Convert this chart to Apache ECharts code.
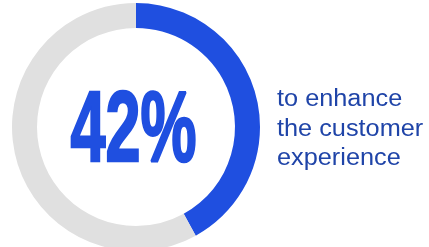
<!DOCTYPE html>
<html>
<head>
<meta charset="utf-8">
<script src="https://cdn.jsdelivr.net/npm/echarts@6/dist/echarts.min.js"></script>
<style>
  html, body { margin: 0; padding: 0; background: #fff; }
  #grafik { width: 429px; height: 247px; }
</style>
</head>
<body>
<div id="grafik"></div>
<script>
var names = ['customer experience', 'other'];
var values = [42, 58];
var caption = ['to enhance', 'the customer', 'experience'];

var chart = echarts.init(document.getElementById('grafik'));

var option = {
  animation: false,
  series: [
    {
      type: 'pie',
      center: [136, 127],
      radius: [99, 124],
      startAngle: 90,
      clockwise: true,
      silent: true,
      label: { show: false },
      labelLine: { show: false },
      data: [
        { name: names[0], value: values[0], itemStyle: { color: '#1f4fe0' } },
        { name: names[1], value: values[1], itemStyle: { color: '#e0e0e0' } }
      ]
    }
  ],
  graphic: [
    {
      type: 'text',
      x: 133.5,
      y: 133,
      scaleX: 0.63,
      style: {
        text: values[0] + '%',
        fill: '#1f4fe0',
        stroke: '#1f4fe0',
        lineWidth: 2.5,
        font: 'bold 100px "Liberation Sans", Arial, sans-serif',
        textAlign: 'center',
        textVerticalAlign: 'middle'
      }
    },
    {
      type: 'text',
      x: 277,
      y: 85,
      scaleX: 1.1,
      style: {
        text: caption.join('\n'),
        fill: '#1f44a8',
        font: '23px "Liberation Sans", Arial, sans-serif',
        lineHeight: 29.5,
        textAlign: 'left',
        textVerticalAlign: 'top'
      }
    }
  ]
};
chart.setOption(option);
</script>
</body>
</html>
